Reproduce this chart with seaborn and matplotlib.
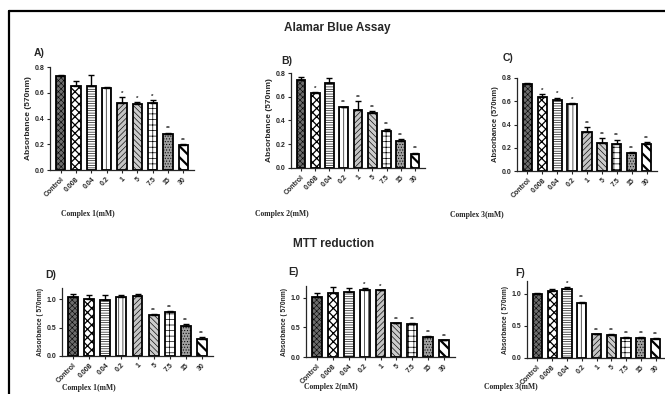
import matplotlib
matplotlib.use("Agg")
import matplotlib.pyplot as plt
import seaborn as sns
import pandas as pd
from matplotlib.lines import Line2D

sns.set_theme(style="ticks")
plt.rcParams['font.family'] = ['Liberation Sans', 'DejaVu Sans']
plt.rcParams['hatch.linewidth'] = 0.45

# concentrations (mM)
doses = ["Control", "0.008", "0.04", "0.2", "1", "5", "7.5", "15", "30"]

# Alamar Blue Assay
alamar_c1 = [0.73, 0.65, 0.65, 0.64, 0.52, 0.515, 0.52, 0.28, 0.195]
alamar_c1_err = [0.01, 0.045, 0.09, 0.004, 0.045, 0.01, 0.02, 0.01, 0.005]
alamar_c1_sig = ["", "", "", "", "*", "*", "*", "**", "**"]

alamar_c2 = [0.745, 0.63, 0.72, 0.51, 0.49, 0.46, 0.31, 0.225, 0.12]
alamar_c2_err = [0.02, 0.01, 0.04, 0.005, 0.07, 0.02, 0.02, 0.02, 0.01]
alamar_c2_sig = ["", "*", "", "**", "**", "**", "**", "**", "**"]

alamar_c3 = [0.745, 0.635, 0.61, 0.58, 0.335, 0.245, 0.235, 0.155, 0.23]
alamar_c3_err = [0.015, 0.025, 0.02, 0.005, 0.04, 0.04, 0.035, 0.005, 0.02]
alamar_c3_sig = ["", "*", "*", "*", "**", "**", "**", "**", "**"]

# MTT reduction
mtt_c1 = [1.04, 1.0, 0.99, 1.05, 1.06, 0.72, 0.77, 0.53, 0.30]
mtt_c1_err = [0.06, 0.07, 0.09, 0.02, 0.04, 0.03, 0.03, 0.03, 0.03]
mtt_c1_sig = ["", "", "", "", "", "**", "**", "**", "**"]

mtt_c2 = [1.01, 1.09, 1.10, 1.14, 1.13, 0.57, 0.55, 0.33, 0.28]
mtt_c2_err = [0.08, 0.09, 0.06, 0.02, 0.01, 0.01, 0.02, 0.02, 0.01]
mtt_c2_sig = ["", "", "", "*", "*", "**", "**", "**", "**"]

mtt_c3 = [1.0, 1.05, 1.08, 0.86, 0.37, 0.36, 0.31, 0.31, 0.30]
mtt_c3_err = [0.02, 0.03, 0.02, 0.02, 0.01, 0.01, 0.01, 0.01, 0.01]
mtt_c3_sig = ["", "", "*", "**", "**", "**", "**", "**", "**"]

# bar styles per dose
fills = ["#6c6c6c", "white", "white", "white", "#c4c4c4", "#cccccc", "white", "#a0a0a0", "white"]
hatches = ["xxxxxx", "xxxx", "-------", "||||", "//////", "\\\\\\\\\\\\", "+++", "......", "\\\\\\"]
hatch_lw = [0.4, 0.9, 0.45, 0.45, 0.45, 0.45, 0.5, 0.45, 1.6]

fig = plt.figure(figsize=(6.65, 3.94), dpi=100)


def panel(rect, values, errs, sig, ylim, yticks, ylabel, lab_fs):
    ax = fig.add_axes(rect)
    df = pd.DataFrame({"dose": doses, "abs": values})
    sns.barplot(data=df, x="dose", y="abs", color="white", width=0.62,
                edgecolor="black", linewidth=1.3, ax=ax)
    for p, fc, h, hl in zip(ax.patches, fills, hatches, hatch_lw):
        p.set_facecolor(fc)
        p.set_hatch(h)
        if hasattr(p, "set_hatch_linewidth"):
            p.set_hatch_linewidth(hl)
    ax.errorbar(range(len(doses)), values, yerr=[[0] * len(errs), errs],
                fmt="none", ecolor="black", elinewidth=1.0, capsize=2.2, capthick=1.0)
    for i, (v, e, s) in enumerate(zip(values, errs, sig)):
        if s:
            ax.text(i, v + e + ylim[1] * 0.015, s, ha="center", va="bottom",
                    fontsize=4.5, fontweight="bold")
    ax.set_ylim(*ylim)
    ax.set_yticks(yticks)
    ax.set_xlim(-0.7, len(doses) - 0.3)
    ax.set_xlabel("")
    ax.set_ylabel(ylabel, fontsize=lab_fs, fontweight="bold", labelpad=2)
    ax.set_xticks(range(len(doses)))
    ax.set_xticklabels(doses, rotation=45, ha="right", rotation_mode="anchor",
                       fontsize=5, fontweight="bold")
    ax.tick_params(axis="y", labelsize=5, length=2.5, width=0.8, pad=1.5)
    ax.tick_params(axis="x", length=2.5, width=0.8, pad=1.5)
    for lab in ax.get_yticklabels():
        lab.set_fontweight("bold")
    sns.despine(ax=ax)
    for sp in ("left", "bottom"):
        ax.spines[sp].set_linewidth(0.9)
    ax.set_facecolor("none")
    return ax


H = 394.0
W = 665.0


def rect(x0, x1, ytop, ybot):
    return [x0 / W, 1 - ybot / H, (x1 - x0) / W, (ybot - ytop) / H]


ab_label = "Absorbance (570nm)"
mtt_label = "Absorbance ( 570nm)"

panel(rect(50, 194, 67, 170), alamar_c1, alamar_c1_err, alamar_c1_sig,
      (0, 0.8), [0, 0.2, 0.4, 0.6, 0.8], ab_label, 6)
panel(rect(291, 425, 73, 168), alamar_c2, alamar_c2_err, alamar_c2_sig,
      (0, 0.8), [0, 0.2, 0.4, 0.6, 0.8], ab_label, 6)
panel(rect(517, 657, 78, 171), alamar_c3, alamar_c3_err, alamar_c3_sig,
      (0, 0.8), [0, 0.2, 0.4, 0.6, 0.8], ab_label, 5.5)
panel(rect(62, 213, 288, 356), mtt_c1, mtt_c1_err, mtt_c1_sig,
      (0, 1.2), [0, 0.5, 1.0], mtt_label, 4.8)
panel(rect(306, 455, 286, 357), mtt_c2, mtt_c2_err, mtt_c2_sig,
      (0, 1.2), [0, 0.5, 1.0], mtt_label, 4.8)
panel(rect(527, 666, 281, 358), mtt_c3, mtt_c3_err, mtt_c3_sig,
      (0, 1.2), [0, 0.5, 1.0], mtt_label, 4.8)

# panel letters
for letter, x, y in [("A)", 34, 53), ("B)", 281, 61), ("C)", 503, 58),
                     ("D)", 45, 275), ("E)", 288, 272), ("F)", 515, 273)]:
    fig.text(x / W, 1 - y / H, letter, fontsize=7.5, fontweight="bold",
             ha="left", va="center")

# section titles
fig.text(337 / W, 1 - 28 / H, "Alamar Blue Assay", fontsize=8.5, fontweight="bold",
         ha="center", va="center")
fig.text(334 / W, 1 - 244 / H, "MTT reduction", fontsize=8.5, fontweight="bold",
         ha="center", va="center")

# complex axis captions
for txt, x, y in [("Complex 1(mM)", 88, 214), ("Complex 2(mM)", 282, 214),
                  ("Complex 3(mM)", 477, 215), ("Complex 1(mM)", 89, 388),
                  ("Complex 2(mM)", 331, 387), ("Complex 3(mM)", 511, 387)]:
    fig.text(x / W, 1 - y / H, txt, fontsize=5.5, fontweight="bold",
             family=["Liberation Serif", "DejaVu Serif"], ha="center", va="center")

# frame lines (top and left)
fig.add_artist(Line2D([9 / W, 1], [1 - 11 / H, 1 - 11 / H], color="black", lw=1.6))
fig.add_artist(Line2D([9 / W, 9 / W], [0, 1 - 11 / H], color="black", lw=1.6))

fig.savefig("out.png", dpi=100)
